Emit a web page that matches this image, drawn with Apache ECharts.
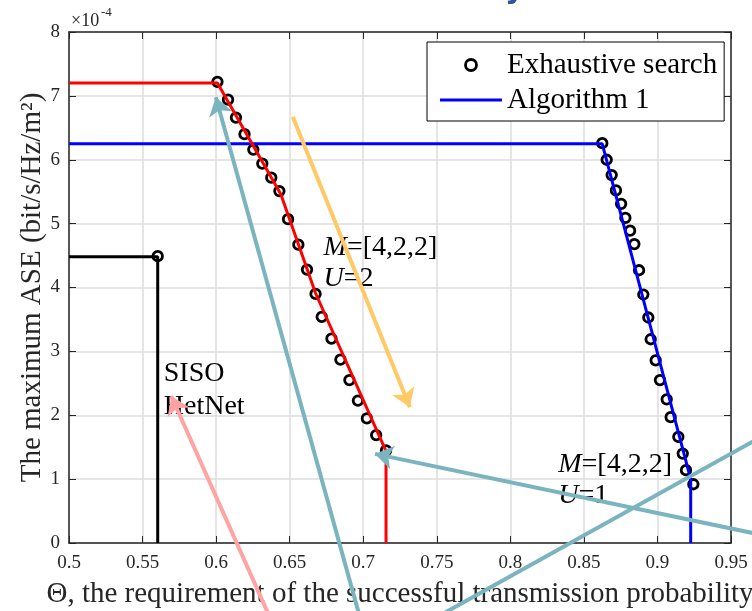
<!DOCTYPE html>
<html>
<head>
<meta charset="utf-8">
<title>Maximum ASE versus the transmission-probability requirement</title>
<script src="https://cdn.jsdelivr.net/npm/echarts@6/dist/echarts.min.js"></script>
<style>
  html, body { margin: 0; padding: 0; background: #fff; }
  #chart { width: 752px; height: 611px; }
</style>
</head>
<body>
<div id="chart"></div>
<script>
// ---- Axis ticks -----------------------------------------------------------
const thetaTicks = ['0.5', '0.55', '0.6', '0.65', '0.7', '0.75', '0.8', '0.85', '0.9', '0.95'];
const aseTicks = ['0', '1', '2', '3', '4', '5', '6', '7', '8'];

// ---- Exhaustive search results (ASE in units of 1e-4 bit/s/Hz/m^2) --------
const exhSisoTheta = [0.5603];
const exhSisoASE = [4.49];

const exhU2Theta = [0.6009, 0.6081, 0.6135, 0.6193, 0.6253, 0.6314, 0.6375, 0.6430, 0.6489, 0.6559,
                    0.6618, 0.6676, 0.6718, 0.6784, 0.6845, 0.6906, 0.6964, 0.7025, 0.7088, 0.7155];
const exhU2ASE = [7.22, 6.94, 6.66, 6.40, 6.16, 5.94, 5.72, 5.51, 5.07, 4.67,
                  4.28, 3.90, 3.54, 3.20, 2.87, 2.55, 2.23, 1.95, 1.69, 1.45];

const exhU1Theta = [0.8625, 0.8655, 0.8689, 0.8718, 0.8753, 0.8782, 0.8814, 0.8843, 0.8875, 0.8904,
                    0.8938, 0.8954, 0.8988, 0.9017, 0.9063, 0.9090, 0.9142, 0.9172, 0.9194, 0.9244];
const exhU1ASE = [6.26, 6.00, 5.76, 5.52, 5.31, 5.09, 4.89, 4.68, 4.27, 3.89,
                  3.53, 3.19, 2.86, 2.55, 2.25, 1.97, 1.66, 1.40, 1.14, 0.92];

// ---- Algorithm 1 curves ---------------------------------------------------
const algSisoTheta = [0.5, 0.5603, 0.5603];
const algSisoASE = [4.48, 4.48, 0];

const algU2Theta = [0.5, 0.6009, 0.6440, 0.6676, 0.7155, 0.7155];
const algU2ASE = [7.20, 7.20, 5.46, 3.91, 1.44, 0];

const algU1Theta = [0.5, 0.8625, 0.9226, 0.9226];
const algU1ASE = [6.25, 6.25, 1.00, 0];

// ---- Text notes, anchored in data coordinates ----------------------------
const noteTheta = [0.5641, 0.5641, 0.6727, 0.6727, 0.8322, 0.8322];
const noteASE = [2.646, 2.129, 4.618, 4.133, 1.221, 0.736];
const noteText = ['SISO', 'HetNet', '{i|M}=[4,2,2]', '{i|U}=2', '{i|M}=[4,2,2]', '{i|U}=1'];

// ---- Pointer arrows (tail -> head, data coordinates) ---------------------
const arrowTail = [[0.6521, 6.674], [0.6992, -1.284], [0.6373, -1.205], [0.9697, 0.133]];
const arrowHead = [[0.7317, 2.126], [0.5998, 6.979], [0.5695, 2.301], [0.7080, 1.395]];
const strokeFrom = [[0.7522, -1.133]];
const strokeTo = [[0.9697, 1.652]];

const ARROW_COLORS = ['#FFC966', '#7AB4BE', '#FFA3A3', '#7AB4BE'];
const STROKE_COLOR = '#7AB4BE';

const SERIF = '"Liberation Serif", "Times New Roman", serif';
const INK = '#262626';

const zip = (xs, ys) => xs.map((x, i) => [x, ys[i]]);

const chart = echarts.init(document.getElementById('chart'), null, { renderer: 'canvas' });

const boxAxis = {
  type: 'value',
  axisLine: { show: true, onZero: false, lineStyle: { color: INK, width: 1.5 } },
  axisTick: { show: true, inside: true, length: 7, lineStyle: { color: INK, width: 1 } },
  axisLabel: { show: false },
  splitLine: { show: false }
};

const option = {
  animation: false,
  backgroundColor: '#ffffff',
  grid: { left: 69, right: 21, top: 32, bottom: 68, containLabel: false, outerBoundsMode: 'none' },
  legend: {
    orient: 'vertical',
    left: 427,
    top: 42,
    padding: [5.5, 7, 3.5, 13],
    itemWidth: 62,
    itemHeight: 11,
    itemGap: 0,
    backgroundColor: '#ffffff',
    borderColor: '#000000',
    borderWidth: 1,
    borderRadius: 0,
    selectedMode: false,
    textStyle: { fontFamily: SERIF, fontSize: 29, color: '#000', lineHeight: 35 },
    data: [
      { name: 'Exhaustive search', icon: 'circle',
        itemStyle: { color: 'rgba(0,0,0,0)', borderColor: '#000', borderWidth: 2.8, opacity: 1 } },
      { name: 'Algorithm 1', icon: 'path://M0,0L62,0L62,3L0,3Z',
        itemStyle: { color: '#0000ff', borderWidth: 0, opacity: 1 } }
    ]
  },
  xAxis: [
    {
      type: 'value',
      position: 'bottom',
      min: 0.5, max: 0.95, interval: 0.05,
      name: 'Θ, the requirement of the successful transmission probability',
      nameLocation: 'middle',
      nameGap: 37,
      nameMoveOverlap: false,
      nameTextStyle: { fontFamily: SERIF, fontSize: 29, color: INK },
      axisLine: { show: true, onZero: false, lineStyle: { color: INK, width: 1.5 } },
      axisTick: { show: true, inside: true, length: 7, lineStyle: { color: INK, width: 1 } },
      axisLabel: {
        margin: 11, fontFamily: SERIF, fontSize: 19, color: INK,
        formatter: v => thetaTicks[Math.round((v - 0.5) / 0.05)] ?? ''
      },
      splitLine: { show: true, lineStyle: { color: '#dcdcdc', width: 1.5 } }
    },
    Object.assign({}, boxAxis, { position: 'top', min: 0.5, max: 0.95, interval: 0.05 })
  ],
  yAxis: [
    {
      type: 'value',
      position: 'left',
      min: 0, max: 8, interval: 1,
      name: 'The maximum ASE (bit/s/Hz/m²)',
      nameLocation: 'middle',
      nameGap: 22,
      nameMoveOverlap: false,
      nameTextStyle: { fontFamily: SERIF, fontSize: 29, color: INK },
      axisLine: { show: true, onZero: false, lineStyle: { color: INK, width: 1.5 } },
      axisTick: { show: true, inside: true, length: 7, lineStyle: { color: INK, width: 1 } },
      axisLabel: {
        margin: 9, fontFamily: SERIF, fontSize: 19, color: INK,
        formatter: v => aseTicks[Math.round(v)] ?? ''
      },
      splitLine: { show: true, lineStyle: { color: '#dcdcdc', width: 1.5 } }
    },
    Object.assign({}, boxAxis, { position: 'right', min: 0, max: 8, interval: 1 })
  ],
  graphic: [
    { type: 'text', x: 71, y: 21,
      style: { text: '×10', fontFamily: SERIF, fontSize: 18, fill: INK, align: 'left', verticalAlign: 'middle' } },
    { type: 'text', x: 101, y: 13,
      style: { text: '-4', fontFamily: SERIF, fontSize: 13, fill: INK, align: 'left', verticalAlign: 'middle' } },
    { type: 'text', x: 505, y: 5,
      style: { text: 'y', fontFamily: '"DejaVu Sans", sans-serif', fontWeight: 'bold', fontSize: 30,
               fill: '#2E5597', align: 'left', verticalAlign: 'bottom' } }
  ],
  series: [
    {
      name: 'Exhaustive search',
      type: 'scatter',
      z: 2,
      symbol: 'circle',
      symbolSize: 9.5,
      itemStyle: { color: 'rgba(0,0,0,0)', borderColor: '#000', borderWidth: 2.8, opacity: 1 },
      emphasis: { disabled: true },
      data: zip(exhSisoTheta, exhSisoASE)
        .concat(zip(exhU2Theta, exhU2ASE))
        .concat(zip(exhU1Theta, exhU1ASE))
    },
    {
      name: 'Algorithm 1',
      type: 'line',
      z: 3,
      symbol: 'none',
      lineStyle: { color: '#0000ff', width: 3 },
      itemStyle: { color: '#0000ff' },
      emphasis: { disabled: true },
      data: zip(algU1Theta, algU1ASE)
    },
    {
      name: 'Algorithm 1 (U=2)',
      type: 'line',
      z: 3,
      symbol: 'none',
      lineStyle: { color: '#ff0000', width: 3 },
      itemStyle: { color: '#ff0000' },
      emphasis: { disabled: true },
      data: zip(algU2Theta, algU2ASE)
    },
    {
      name: 'SISO HetNet',
      type: 'line',
      z: 3,
      symbol: 'none',
      lineStyle: { color: '#000000', width: 3 },
      itemStyle: { color: '#000000' },
      emphasis: { disabled: true },
      data: zip(algSisoTheta, algSisoASE)
    },
    {
      name: 'notes',
      type: 'scatter',
      z: 4,
      symbolSize: 1,
      itemStyle: { color: 'rgba(0,0,0,0)', opacity: 1 },
      silent: true,
      label: {
        show: true,
        position: 'right',
        distance: 0,
        align: 'left',
        verticalAlign: 'middle',
        fontFamily: SERIF,
        fontSize: 28,
        color: '#000',
        opacity: 1,
        formatter: p => noteText[p.dataIndex],
        rich: { i: { fontFamily: SERIF, fontSize: 28, fontStyle: 'italic', color: '#000' } }
      },
      data: zip(noteTheta, noteASE)
    },
    {
      name: 'pointers',
      type: 'lines',
      coordinateSystem: 'cartesian2d',
      clip: false,
      z: 10,
      silent: true,
      symbol: ['none', 'arrow'],
      symbolSize: [15, 18],
      lineStyle: { width: 4, opacity: 1, curveness: 0 },
      data: arrowTail.map((t, i) => ({
        coords: [t, arrowHead[i]],
        lineStyle: { color: ARROW_COLORS[i] },
        itemStyle: { color: ARROW_COLORS[i] }
      }))
    },
    {
      name: 'stroke',
      type: 'lines',
      coordinateSystem: 'cartesian2d',
      clip: false,
      z: 10,
      silent: true,
      symbol: ['none', 'none'],
      lineStyle: { width: 4, opacity: 1, color: STROKE_COLOR },
      data: strokeFrom.map((f, i) => ({ coords: [f, strokeTo[i]] }))
    }
  ]
};

chart.setOption(option);
</script>
</body>
</html>
